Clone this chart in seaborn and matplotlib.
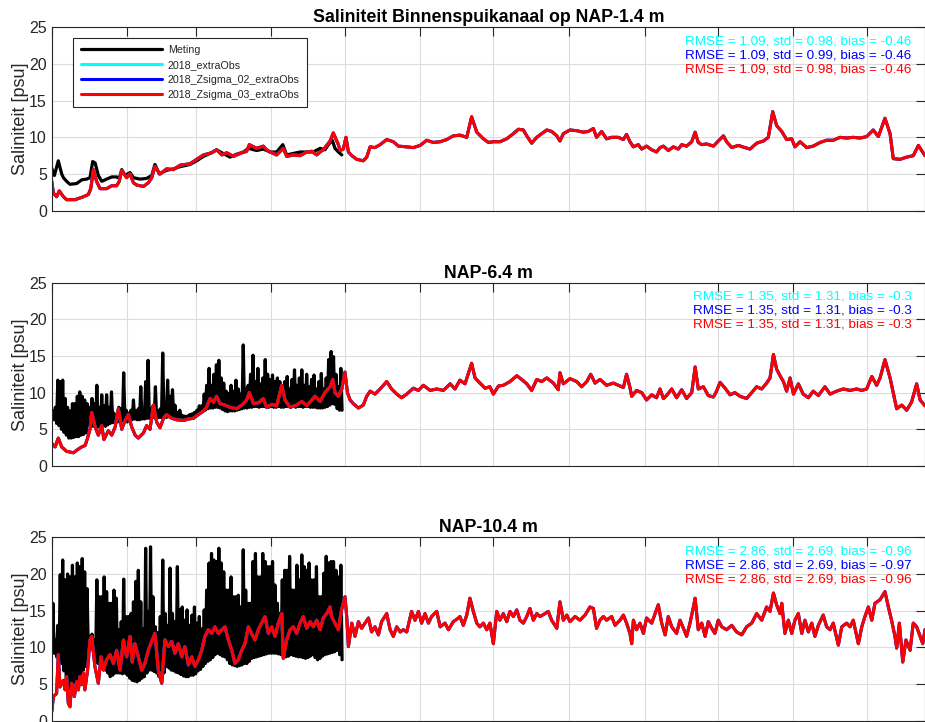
import pandas as pd
import matplotlib
matplotlib.use("Agg")
import matplotlib.pyplot as plt
import matplotlib.dates as mdates
import seaborn as sns

# ---------------------------------------------------------------- data
START = pd.Timestamp("2018-01-01")
END = START + pd.Timedelta(days=358.1)

run_names = ["2018_extraObs", "2018_Zsigma_02_extraObs", "2018_Zsigma_03_extraObs"]
run_colors = ["#00ffff", "#0000ff", "#ff0000"]
panel_titles = ["Saliniteit Binnenspuikanaal op NAP-1.4 m", "NAP-6.4 m", "NAP-10.4 m"]

# (RMSE, std, bias) per run and per depth
stats_14 = [(1.09, 0.98, -0.46), (1.09, 0.99, -0.46), (1.09, 0.98, -0.46)]
stats_64 = [(1.35, 1.31, -0.3), (1.35, 1.31, -0.3), (1.35, 1.31, -0.3)]
stats_104 = [(2.86, 2.69, -0.96), (2.86, 2.69, -0.97), (2.86, 2.69, -0.96)]

# measured salinity at NAP-1.4 m: (day of year, psu)
meting_14 = [
    (0.0, 5.8), (1.1, 4.8), (2.7, 6.8), (4.1, 5.0), (4.8, 4.5), (6.1, 4.0), (7.5, 3.6),
    (10.2, 3.7), (12.3, 4.2), (14.3, 4.3), (15.7, 4.5), (16.8, 6.7), (17.8, 6.5),
    (19.1, 4.8), (20.5, 4.0), (22.5, 4.3), (24.6, 4.6), (26.6, 4.6), (27.7, 4.4),
    (28.7, 5.6), (30.1, 4.8), (32.1, 5.2), (33.5, 4.5), (36.2, 4.3), (38.9, 4.4),
    (41.0, 4.8), (42.3, 6.3), (44.1, 5.0), (47.1, 5.5), (49.9, 5.7), (52.6, 6.0),
    (56.7, 6.3), (59.4, 6.8), (62.2, 7.4), (64.9, 7.8), (67.6, 8.3), (69.7, 7.9),
    (73.1, 7.3), (75.8, 7.7), (78.6, 8.0), (80.6, 8.5), (84.0, 8.2), (86.7, 8.4),
    (89.5, 8.0), (92.2, 8.0), (94.7, 9.0), (96.3, 7.6), (99.0, 7.8), (101.8, 8.0),
    (104.5, 8.0), (107.2, 8.0), (110.0, 8.5), (112.0, 8.3), (113.4, 9.0), (115.0, 9.6),
    (116.1, 8.5), (117.5, 8.0), (118.9, 7.6),
]

# measured salinity at NAP-6.4 m, 12-hourly from 1 Jan 00:00 (psu)
meting_64 = [
    6.7, 7.5, 6.3, 8.0, 5.8, 11.7, 5.5, 11.5, 5.0, 11.7, 4.6, 9.2, 4.2, 8.0, 3.8, 7.5, 3.8, 8.5, 3.9, 8.5,
    4.0, 9.5, 4.0, 10.1, 4.2, 9.5, 4.3, 9.0, 4.5, 8.5, 5.5, 8.0, 5.6, 9.2, 5.4, 8.5, 5.4, 11.0, 5.3, 8.0,
    5.4, 9.7, 5.5, 8.2, 5.4, 9.7, 5.6, 8.0, 5.8, 10.1, 5.9, 7.2, 5.8, 7.0, 6.0, 8.0, 6.1, 7.8, 6.2, 12.7,
    6.3, 7.6, 6.0, 7.2, 6.2, 7.6, 6.3, 9.0, 6.4, 7.5, 6.3, 7.8, 6.3, 10.8, 6.4, 7.5, 6.4, 11.5, 6.5, 14.4,
    6.5, 7.8, 6.5, 8.2, 6.6, 10.8, 6.5, 7.5, 6.6, 7.8, 6.6, 15.4, 6.7, 7.6, 6.6, 11.7, 6.7, 9.5, 6.7, 10.4,
    6.6, 8.3, 6.6, 7.3, 6.5, 7.6, 6.5, 6.9, 6.5, 6.8, 6.5, 6.8, 6.6, 7.0, 6.7, 7.1, 6.8, 7.3, 7.0, 7.6,
    7.2, 8.2, 7.3, 8.2, 7.4, 9.8, 7.6, 11.0, 7.8, 13.3, 7.9, 11.0, 7.9, 12.5, 8.0, 13.8, 8.0, 14.4, 7.9, 12.0,
    7.7, 11.3, 7.5, 10.2, 7.4, 9.9, 7.5, 11.0, 7.5, 10.2, 7.5, 11.7, 7.6, 10.5, 7.7, 9.8, 7.8, 16.5, 7.9, 10.5,
    7.9, 11.0, 8.0, 12.5, 8.0, 15.1, 8.1, 11.5, 8.1, 13.3, 8.0, 11.2, 8.1, 12.0, 8.1, 14.5, 8.0, 12.5, 8.0, 11.8,
    8.1, 12.4, 8.0, 11.5, 8.0, 12.0, 8.1, 11.5, 8.0, 10.5, 8.0, 11.5, 8.1, 12.2, 8.1, 10.5, 8.0, 11.8, 8.1, 13.1,
    8.0, 11.0, 8.1, 12.0, 8.1, 13.1, 8.0, 11.0, 8.1, 12.5, 8.1, 10.8, 8.0, 11.8, 8.0, 12.4, 8.0, 10.5, 7.9, 11.5,
    7.9, 12.6, 7.9, 10.5, 8.0, 12.0, 8.1, 14.5, 8.3, 15.6, 8.5, 14.9, 8.4, 12.5, 7.8, 10.8, 7.6, 13.3,
    7.6,
]

# measured salinity at NAP-10.4 m, 12-hourly from 1 Jan 00:00 (psu)
meting_104 = [
    9.6, 16.0, 9.2, 11.0, 8.7, 13.0, 8.2, 19.9, 7.8, 21.9, 6.8, 19.2, 5.5, 20.0, 4.3, 19.6, 4.4, 21.2, 5.1, 19.6,
    5.3, 21.5, 6.0, 21.0, 6.3, 22.1, 6.9, 20.3, 7.4, 18.0, 9.5, 11.5, 10.0, 11.8, 9.5, 11.0, 8.0, 19.2, 7.8, 16.9,
    7.5, 16.9, 7.0, 19.6, 6.9, 17.6, 6.5, 16.0, 6.0, 16.0, 6.2, 17.8, 6.5, 16.7, 6.5, 12.4, 6.5, 13.5, 6.4, 19.3,
    6.5, 14.2, 6.2, 14.2, 5.8, 14.6, 5.5, 16.2, 5.4, 19.0, 5.3, 20.5, 5.5, 16.2, 5.8, 12.5, 6.0, 23.5, 6.5, 14.9,
    6.9, 23.7, 6.9, 16.9, 6.7, 12.8, 6.5, 12.0, 6.0, 14.2, 5.3, 21.9, 6.5, 14.6, 7.4, 13.0, 7.2, 20.8, 6.9, 14.6,
    6.8, 13.5, 6.6, 21.0, 6.5, 15.1, 6.3, 15.5, 6.1, 13.7, 6.0, 15.1, 6.0, 13.0, 6.2, 14.4, 6.2, 15.5, 6.4, 13.3,
    6.8, 14.2, 7.0, 12.5, 7.4, 15.1, 7.8, 17.8, 8.1, 21.5, 8.3, 22.8, 8.6, 21.9, 9.0, 21.7, 9.2, 23.5, 9.0, 21.5,
    8.8, 20.3, 8.7, 17.8, 8.3, 17.8, 7.8, 19.6, 7.6, 16.9, 7.5, 16.9, 7.4, 17.1, 7.5, 15.5, 7.6, 23.3, 7.8, 17.8,
    7.8, 16.0, 8.1, 16.0, 8.5, 21.7, 8.6, 22.8, 8.7, 19.6, 8.8, 19.6, 8.9, 22.8, 9.0, 21.7, 9.1, 21.0, 9.2, 21.0,
    9.2, 21.7, 9.2, 18.5, 9.2, 16.0, 9.1, 14.6, 9.0, 19.2, 8.8, 20.5, 8.7, 20.5, 8.8, 22.4, 9.0, 17.8, 8.9, 17.8,
    8.8, 21.2, 8.7, 19.2, 8.7, 22.6, 8.6, 21.0, 8.5, 20.5, 8.6, 21.5, 8.8, 19.2, 9.0, 19.2, 8.6, 21.0, 8.3, 16.9,
    8.5, 16.9, 8.8, 20.1, 9.0, 22.4, 9.1, 21.5, 9.2, 21.7, 9.3, 21.7, 9.4, 20.5, 9.6, 19.6, 9.0, 21.2,
    8.3,
]

# modelled salinity (the three runs coincide at plot resolution): (day of year, psu)
model_14 = [
    (0.0, 4.0), (0.7, 2.4), (2.0, 1.9), (3.1, 2.7), (4.8, 1.9), (6.1, 1.5), (9.6, 1.5), (13.0, 1.9),
    (15.0, 2.2), (16.0, 3.0), (17.1, 5.6), (18.4, 4.0), (19.8, 3.0), (22.5, 3.0), (24.6, 3.4),
    (26.6, 3.4), (27.7, 4.0), (28.7, 5.5), (30.7, 4.5), (32.1, 5.0), (33.5, 3.8), (34.8, 3.5),
    (37.6, 3.3), (39.6, 3.8), (41.0, 4.5), (42.3, 6.0), (44.4, 5.0), (47.1, 5.7), (49.9, 5.6),
    (52.6, 6.2), (56.7, 6.4), (59.4, 7.0), (62.2, 7.6), (65.6, 7.9), (67.6, 8.3), (69.7, 7.6),
    (71.7, 7.9), (74.5, 7.4), (77.2, 7.8), (79.9, 8.1), (81.0, 9.0), (84.0, 8.5), (86.7, 8.8),
    (88.1, 8.3), (89.5, 8.0), (92.2, 7.6), (94.9, 8.5), (96.3, 7.4), (99.0, 7.6), (101.8, 7.5),
    (104.5, 8.0), (106.6, 8.1), (108.6, 7.6), (110.0, 8.0), (111.3, 8.3), (114.1, 9.5),
    (115.4, 10.6), (117.5, 9.0), (118.2, 8.2), (119.5, 8.4), (120.6, 10.0), (121.6, 8.0),
    (123.0, 7.5), (125.0, 7.0), (127.7, 6.8), (129.1, 7.3), (130.5, 8.7), (132.5, 8.6),
    (134.6, 9.0), (137.3, 9.7), (140.0, 9.4), (142.1, 8.8), (145.5, 8.7), (148.2, 8.6),
    (151.0, 8.9), (153.7, 9.6), (156.4, 9.3), (159.2, 9.4), (161.9, 9.7), (164.6, 10.2),
    (167.3, 10.3), (170.1, 10.0), (172.1, 12.8), (174.2, 10.7), (176.9, 9.8), (179.0, 9.3),
    (181.0, 9.4), (183.7, 9.4), (186.5, 9.8), (189.2, 10.5), (191.3, 11.1), (193.3, 11.0),
    (194.7, 10.2), (196.7, 9.2), (198.8, 10.0), (200.8, 10.5), (202.9, 11.0), (204.9, 10.8),
    (207.0, 10.2), (208.3, 9.5), (209.7, 10.5), (212.4, 11.0), (215.2, 10.9), (217.9, 10.7),
    (219.9, 10.8), (222.0, 11.2), (223.3, 10.0), (225.4, 10.8), (227.4, 9.8), (229.5, 10.0),
    (232.2, 10.0), (234.3, 9.7), (235.6, 10.4), (237.0, 9.4), (238.4, 8.7), (240.4, 9.0),
    (241.8, 8.4), (243.8, 8.8), (245.9, 8.3), (247.9, 8.0), (249.3, 8.6), (250.7, 8.8),
    (252.7, 8.2), (254.8, 8.7), (256.8, 8.4), (258.2, 9.0), (260.2, 8.8), (262.3, 9.4),
    (263.7, 10.7), (265.0, 9.3), (266.4, 9.0), (268.4, 9.1), (271.2, 8.8), (273.2, 9.5),
    (275.3, 10.2), (276.6, 9.4), (278.7, 8.6), (281.4, 8.9), (284.1, 8.6), (286.2, 8.4),
    (288.9, 9.2), (291.7, 9.5), (293.7, 10.0), (295.5, 13.5), (297.1, 11.6), (299.2, 10.8),
    (301.2, 9.7), (303.3, 9.8), (304.6, 8.7), (306.7, 9.4), (309.4, 8.6), (312.1, 8.8),
    (314.9, 9.3), (317.6, 9.6), (320.3, 9.6), (323.1, 10.0), (325.8, 9.9), (328.5, 10.0),
    (331.3, 9.9), (334.0, 10.1), (336.7, 11.0), (338.8, 10.1), (341.5, 12.6), (343.6, 10.5),
    (344.9, 7.1), (347.7, 7.0), (350.4, 7.3), (353.1, 7.5), (355.2, 8.9), (357.9, 7.5),
]

model_64 = [
    (0.0, 3.1), (1.4, 2.6), (2.7, 3.8), (4.1, 2.6), (6.1, 2.0), (8.9, 1.8), (10.9, 2.3), (12.3, 2.6),
    (13.7, 2.8), (14.6, 3.7), (15.7, 5.0), (16.4, 7.3), (17.8, 5.3), (19.1, 4.2), (20.5, 5.5),
    (21.4, 3.6), (23.2, 4.8), (24.6, 4.2), (26.0, 5.3), (27.3, 7.8), (28.7, 5.0), (30.1, 6.2),
    (31.4, 7.0), (32.8, 5.3), (34.2, 4.2), (35.5, 3.8), (37.6, 4.5), (38.9, 5.5), (40.3, 5.0),
    (41.7, 8.3), (43.0, 6.0), (44.4, 5.2), (45.8, 6.5), (47.1, 7.0), (49.2, 6.5), (51.2, 6.3),
    (54.0, 6.2), (56.0, 6.4), (58.1, 6.5), (60.1, 7.0), (62.2, 7.5), (63.5, 8.0), (64.9, 9.2),
    (66.3, 8.7), (67.6, 9.5), (69.0, 8.5), (71.0, 8.3), (73.1, 8.0), (75.8, 7.8), (77.9, 8.3),
    (79.9, 9.0), (81.0, 10.0), (82.7, 8.5), (84.7, 8.6), (86.7, 9.2), (88.1, 8.0), (90.2, 8.4),
    (92.2, 8.2), (94.3, 11.0), (95.6, 9.0), (97.7, 8.0), (100.4, 8.3), (102.5, 8.8), (104.5, 8.2),
    (106.6, 9.0), (107.9, 9.5), (110.0, 8.8), (112.0, 10.0), (114.1, 10.8), (115.2, 11.8),
    (116.1, 10.0), (117.5, 9.5), (118.9, 10.5), (120.2, 12.8), (121.2, 10.0), (122.3, 9.0),
    (123.6, 8.5), (125.7, 7.9), (127.7, 8.3), (129.1, 9.5), (130.5, 10.2), (132.5, 9.8),
    (134.6, 10.5), (137.3, 11.5), (139.3, 10.5), (141.4, 9.8), (143.4, 9.3), (145.5, 9.8),
    (148.2, 10.6), (150.3, 10.3), (152.3, 11.0), (155.1, 10.3), (157.8, 10.5), (160.5, 10.3),
    (163.3, 11.2), (165.3, 10.5),
    (167.3, 11.7), (169.4, 11.2), (172.1, 14.0), (173.5, 12.0), (175.5, 11.3), (177.6, 10.6),
    (179.6, 10.8), (181.0, 9.8), (183.1, 10.9), (185.1, 11.0), (187.8, 11.5), (190.6, 12.3),
    (192.6, 11.8), (194.7, 11.2), (196.7, 10.3), (198.8, 11.8), (200.8, 11.5), (202.9, 12.0),
    (205.6, 11.3), (207.6, 10.4), (208.3, 12.7), (209.7, 11.2), (212.4, 11.9), (215.2, 11.5),
    (217.2, 10.8), (219.3, 11.5), (220.9, 12.5), (222.7, 11.3), (224.7, 11.8), (227.4, 11.0),
    (230.2, 11.3), (232.2, 11.0), (234.3, 10.7), (235.6, 12.5), (237.0, 10.7), (237.7, 9.5),
    (239.7, 10.3), (241.8, 10.0), (243.8, 9.0), (245.9, 9.7), (247.9, 9.3), (249.3, 10.5),
    (250.7, 9.2), (252.0, 9.6), (254.1, 10.5), (256.1, 9.3), (258.2, 10.4), (260.2, 9.2),
    (262.3, 10.0), (263.7, 13.5), (265.0, 10.5), (267.1, 10.8), (269.1, 9.6), (271.2, 9.4),
    (272.5, 10.2), (273.9, 11.4), (276.0, 10.6), (278.0, 9.7), (280.0, 10.0), (282.1, 9.5),
    (284.8, 9.2), (286.9, 10.0), (288.9, 10.8), (291.0, 10.5), (293.0, 11.3), (294.4, 12.0),
    (295.8, 15.2), (297.1, 13.2), (298.5, 12.3), (299.9, 11.5), (301.2, 10.2), (302.6, 12.0),
    (304.0, 9.8), (306.0, 11.2), (308.0, 9.8), (310.1, 9.3), (312.1, 10.2), (314.2, 9.6),
    (316.9, 10.8), (319.0, 9.8), (321.7, 10.2), (324.4, 10.5), (327.2, 10.3), (329.9, 10.5),
    (332.0, 10.3), (334.0, 10.5), (336.1, 12.2), (338.1, 11.0), (339.5, 12.0), (341.5, 14.5),
    (343.6, 12.0), (344.9, 10.0), (346.3, 7.8), (348.4, 8.3), (350.4, 7.6), (352.4, 8.7),
    (354.5, 11.2), (355.9, 9.0), (357.9, 8.2),
]

model_104 = [
    (0.0, 1.2), (0.7, 3.3), (2.0, 3.7), (2.7, 9.0), (3.4, 4.6), (4.8, 5.5), (5.5, 4.2), (6.1, 6.0),
    (6.8, 2.4), (7.5, 1.9), (8.2, 5.1), (9.3, 3.3), (10.2, 5.3), (10.9, 4.2), (11.6, 6.0),
    (12.3, 4.9), (13.0, 6.5), (13.6, 4.2), (14.7, 6.9), (15.7, 11.0), (16.4, 11.5), (17.7, 7.4),
    (19.1, 5.1), (20.2, 8.7), (21.2, 6.9), (22.5, 8.3), (23.9, 9.0), (25.3, 7.8), (26.6, 9.6),
    (28.0, 6.9), (29.4, 11.0), (30.7, 8.7), (32.1, 11.5), (33.0, 8.0), (34.1, 10.5), (35.5, 8.7),
    (36.9, 6.9), (38.2, 7.8), (39.6, 9.6), (41.2, 11.0), (42.3, 11.9), (43.7, 6.9), (45.1, 5.1),
    (46.4, 11.0), (47.8, 10.1), (49.2, 10.8), (50.5, 9.2), (51.9, 10.5), (53.3, 8.7), (54.6, 10.1),
    (56.0, 7.6), (57.4, 8.7), (58.7, 7.4), (60.1, 8.3), (61.5, 9.6), (62.8, 11.5), (64.2, 12.4),
    (65.6, 11.9), (66.9, 12.8), (68.3, 11.9), (69.7, 12.4), (71.0, 12.8), (72.4, 11.0), (73.8, 9.6),
    (75.1, 7.8), (76.5, 8.3), (77.9, 9.6), (79.2, 10.5), (80.6, 12.8), (81.9, 11.9), (83.3, 11.0),
    (84.7, 12.4), (86.0, 13.3), (87.4, 14.2), (88.8, 11.9), (90.2, 12.8), (91.5, 11.5), (92.9, 13.3),
    (94.3, 14.6), (94.9, 8.5), (96.3, 11.0), (97.7, 12.4), (99.0, 12.8), (100.4, 11.9),
    (101.8, 13.3), (103.1, 14.2), (104.5, 12.6), (105.9, 13.5), (107.2, 12.8), (108.6, 13.7),
    (110.0, 12.4), (111.3, 14.0), (112.7, 14.6), (114.1, 15.5), (114.7, 14.2), (116.1, 13.3),
    (117.5, 12.4), (118.1, 13.7), (118.8, 15.1), (120.2, 16.9), (120.9, 14.2), (121.6, 10.1),
    (123.0, 13.3), (124.3, 11.5), (125.7, 13.5), (127.0, 12.6), (128.4, 13.3), (129.8, 14.0),
    (131.1, 12.1), (132.5, 12.8), (133.9, 11.7), (135.2, 13.5), (137.3, 14.6), (138.7, 12.4),
    (140.0, 11.5), (141.4, 12.8), (142.8, 12.1), (144.1, 12.4), (145.5, 12.1), (147.5, 14.9),
    (148.9, 13.7), (150.3, 14.9), (151.6, 13.3), (153.0, 14.6), (154.4, 13.3), (155.7, 14.2),
    (157.8, 14.9), (159.2, 12.8), (161.2, 13.3), (162.6, 12.4), (164.6, 13.5), (166.7, 14.0),
    (167.3, 14.2), (168.7, 13.0), (170.1, 14.4), (171.4, 16.7), (172.8, 14.9), (174.2, 13.3),
    (175.5, 12.8), (176.9, 13.3), (178.3, 12.4), (179.6, 13.3), (181.0, 10.5), (182.4, 14.9),
    (183.7, 13.7), (185.1, 14.6), (186.5, 13.5), (187.8, 14.9), (189.2, 14.2), (190.6, 15.1),
    (191.9, 13.7), (193.3, 13.3), (194.7, 14.2), (196.0, 15.3), (197.4, 13.7), (198.8, 14.6),
    (200.1, 14.2), (202.2, 14.6), (203.5, 14.9), (204.9, 13.7), (207.0, 12.6), (208.3, 16.2),
    (209.7, 13.7), (211.1, 14.4), (212.4, 13.5), (214.5, 14.2), (216.5, 13.7), (218.6, 14.4),
    (220.6, 15.5), (222.0, 15.3), (223.3, 12.6), (224.7, 13.7), (226.1, 14.2), (227.4, 13.7),
    (229.5, 14.2), (230.9, 13.0), (232.9, 13.7), (234.3, 14.4), (235.6, 13.3), (237.0, 11.9),
    (237.7, 10.5), (238.4, 13.7), (239.7, 12.4), (241.1, 13.3), (242.5, 11.9), (243.8, 14.0),
    (245.9, 13.3), (247.3, 14.6), (248.6, 15.8), (250.0, 13.3), (251.4, 11.7), (252.7, 14.2),
    (254.1, 12.8), (256.1, 11.9), (257.5, 13.7), (258.9, 12.6), (260.2, 11.5), (261.6, 13.3),
    (263.0, 15.5), (263.7, 16.7), (265.0, 12.4), (266.4, 13.3), (267.8, 11.5), (269.1, 13.5),
    (270.5, 12.6), (271.8, 11.9), (273.2, 13.7), (274.6, 12.8), (276.6, 12.4), (278.7, 13.0),
    (280.7, 12.1), (282.8, 11.7), (284.8, 12.8), (286.9, 13.3), (288.9, 14.6), (291.0, 13.7),
    (293.0, 15.5), (294.4, 14.9), (295.8, 17.4), (297.1, 15.8), (298.5, 14.6), (299.2, 16.0),
    (300.5, 11.9), (301.9, 13.7), (303.3, 11.9), (304.6, 13.7), (306.0, 14.6), (307.4, 11.9),
    (308.7, 13.7), (310.1, 12.1), (311.5, 13.3), (312.8, 11.5), (314.2, 13.0), (316.2, 14.4),
    (317.6, 12.8), (319.0, 12.4), (320.3, 13.3), (322.4, 10.3), (323.8, 12.8), (325.8, 13.3),
    (327.2, 12.8), (328.5, 13.7), (330.6, 10.5), (332.0, 12.8), (333.3, 14.2), (334.7, 15.5),
    (336.1, 13.7), (337.4, 16.0), (339.5, 16.5), (341.5, 17.6), (342.9, 15.5), (344.2, 13.7),
    (345.6, 11.5), (346.3, 9.9), (347.4, 13.3), (348.8, 8.0), (350.1, 11.0), (351.8, 9.6),
    (353.1, 13.3), (354.5, 12.8), (355.9, 11.5), (357.0, 10.5), (357.9, 12.4),
]

y_ticks = [0, 5, 10, 15, 20, 25]


# ---------------------------------------------------------------- helpers
def from_pairs(pairs):
    days, vals = zip(*pairs)
    t = START + pd.to_timedelta(list(days), unit="D")
    return pd.DataFrame({"tijd": t, "saliniteit": list(vals)})


def from_12h(vals):
    t = pd.date_range(START, periods=len(vals), freq="12h")
    return pd.DataFrame({"tijd": t, "saliniteit": vals})


panels = [
    (from_pairs(meting_14), from_pairs(model_14), stats_14),
    (from_12h(meting_64), from_pairs(model_64), stats_64),
    (from_12h(meting_104), from_pairs(model_104), stats_104),
]

# ---------------------------------------------------------------- style
sns.set_style("white")
plt.rcParams["font.family"] = ["Liberation Sans", "DejaVu Sans"]
INK = "#262626"

fig = plt.figure(figsize=(9.25, 7.22), dpi=100)
ax_left, ax_width, ax_height = 0.0559, 0.9446, 0.2540
ax_bottoms = [0.7082, 0.3546, 0.0018]

for i, (meas, model, stats) in enumerate(panels):
    ax = fig.add_axes([ax_left, ax_bottoms[i], ax_width, ax_height])
    ax.set_axisbelow(True)

    sns.lineplot(data=meas, x="tijd", y="saliniteit", ax=ax, color="black",
                 linewidth=2.3, sort=False, estimator=None,
                 label="Meting" if i == 0 else None, legend=False)
    for name, col in zip(run_names, run_colors):
        sns.lineplot(data=model, x="tijd", y="saliniteit", ax=ax, color=col,
                     linewidth=2.2, sort=False, estimator=None,
                     label=name if i == 0 else None, legend=False)

    ax.set_xlim(START, END)
    ax.set_ylim(0, 25)
    ax.set_yticks(y_ticks)
    ax.xaxis.set_major_locator(mdates.MonthLocator())
    ax.tick_params(axis="both", direction="in", top=True, right=True,
                   length=6.5, width=0.8, color=INK, labelcolor=INK,
                   labelsize=11.5, pad=3.4, labelbottom=False)
    ax.grid(True, color="#dcdcdc", linewidth=0.8)
    for sp in ax.spines.values():
        sp.set_color(INK)
        sp.set_linewidth(0.8)

    ax.set_xlabel("")
    ax.set_ylabel("Saliniteit [psu]", fontsize=13, color=INK, labelpad=0)
    ax.set_title(panel_titles[i], fontsize=12.8, fontweight="bold",
                 color="black", pad=3.5)

    for (rmse, std, bias), col, yy in zip(stats, run_colors, [0.922, 0.846, 0.771]):
        ax.text(0.984, yy, f"RMSE = {rmse:g}, std = {std:g}, bias = {bias:g}",
                transform=ax.transAxes, ha="right", va="center",
                fontsize=9.7, color=col)

    if i == 0:
        leg = ax.legend(loc="upper left", bbox_to_anchor=(0.0244, 0.943),
                        borderaxespad=0, fontsize=7.7, handlelength=7.6,
                        handletextpad=0.55, labelspacing=0.45, borderpad=0.7,
                        fancybox=False, framealpha=1, edgecolor=INK)
        leg.get_frame().set_linewidth(0.8)

fig.savefig("out.png", dpi=100)
